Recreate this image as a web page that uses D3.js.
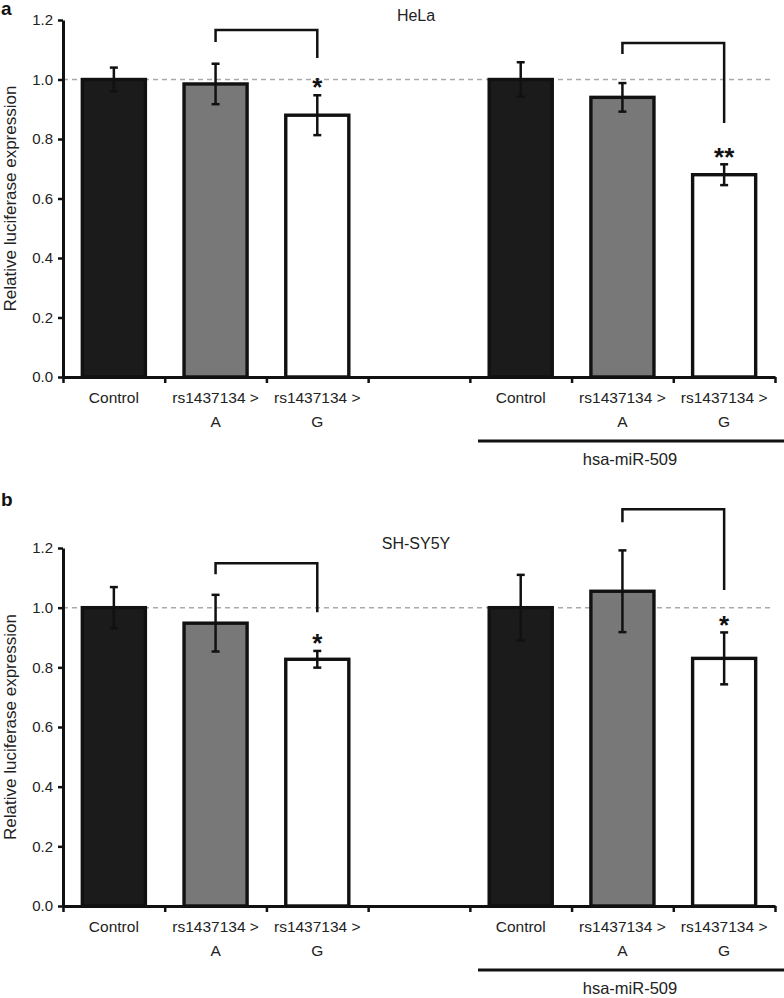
<!DOCTYPE html>
<html>
<head>
<meta charset="utf-8">
<script src="https://cdnjs.cloudflare.com/ajax/libs/d3/7.8.5/d3.min.js"></script>
<style>
  body { margin: 0; background: #fff; }
  svg { font-family: "Liberation Sans", Arial, sans-serif; }
</style>
</head>
<body>
<script>
// slots along the x axis (one empty slot between the two groups)
var slotKeys = ["c1", "a1", "g1", "gap", "c2", "a2", "g2"];
var labelLine1 = ["Control", "rs1437134 >", "rs1437134 >", "", "Control", "rs1437134 >", "rs1437134 >"];
var labelLine2 = ["", "A", "G", "", "", "A", "G"];
var slotType = ["control", "A", "G", null, "control", "A", "G"];

// HeLa (panel a)
var helaValues = [1.0, 0.985, 0.88, null, 1.0, 0.94, 0.68];
var helaErrors = [0.04, 0.068, 0.067, null, 0.058, 0.048, 0.035];
var helaBrackets = [
  { from: "a1", to: "g1", top: 1.166, leftEnd: 1.126, rightEnd: 1.072 },
  { from: "a2", to: "g2", top: 1.123, leftEnd: 1.086, rightEnd: 0.854 }
];
var helaStars = [{ slot: "g1", text: "*", at: 0.99 }, { slot: "g2", text: "**", at: 0.755 }];

// SH-SY5Y (panel b)
var shsyValues = [1.0, 0.948, 0.827, null, 1.0, 1.055, 0.83];
var shsyErrors = [0.069, 0.095, 0.028, null, 0.11, 0.137, 0.087];
var shsyBrackets = [
  { from: "a1", to: "g1", top: 1.149, leftEnd: 1.112, rightEnd: 0.985 },
  { from: "a2", to: "g2", top: 1.33, leftEnd: 1.286, rightEnd: 1.059 }
];
var shsyStars = [{ slot: "g1", text: "*", at: 0.898 }, { slot: "g2", text: "*", at: 0.958 }];

var yTicks = [0, 0.2, 0.4, 0.6, 0.8, 1.0, 1.2];
var groupLabel = "hsa-miR-509";
var yLabel = "Relative luciferase expression";

var fills = { control: "#1b1b1b", A: "#787878", G: "#ffffff" };

var w = 784, h = 998;
var left = 63, right = 775;

var svg = d3.select("body").append("svg")
  .attr("width", w)
  .attr("height", h);

var x = d3.scaleBand()
  .domain(slotKeys)
  .range([left, right])
  .paddingInner(0.38)
  .paddingOuter(0.19);

// boundaries between slots, for the x-axis ticks
var xEdge = d3.scaleLinear().domain([0, slotKeys.length]).range([left, right]);

var panels = [
  { letter: "a", title: "HeLa", values: helaValues, errors: helaErrors, brackets: helaBrackets, stars: helaStars, top: 20, bottom: 377, letterY: 15 },
  { letter: "b", title: "SH-SY5Y", values: shsyValues, errors: shsyErrors, brackets: shsyBrackets, stars: shsyStars, top: 548, bottom: 906, letterY: 506 }
];

panels.forEach(function(p) {
  var g = svg.append("g");
  var y = d3.scaleLinear().domain([0, 1.2]).range([p.bottom, p.top]);
  var cx = function(k) { return x(k) + x.bandwidth() / 2; };

  // panel letter and title
  svg.append("text")
    .attr("x", 1).attr("y", p.letterY)
    .style("font-size", "19px").style("font-weight", "bold")
    .attr("fill", "#111")
    .text(p.letter);
  g.append("text")
    .attr("x", 416).attr("y", p.top + 1)
    .attr("text-anchor", "middle")
    .style("font-size", "16px")
    .attr("fill", "#222")
    .text(p.title);

  // reference line at 1.0
  g.append("line")
    .attr("x1", left).attr("x2", 770)
    .attr("y1", y(1)).attr("y2", y(1))
    .attr("stroke", "#aaa")
    .attr("stroke-width", 1.5)
    .attr("stroke-dasharray", "5,4");

  var rows = slotKeys.map(function(k, i) {
    return { key: k, value: p.values[i], err: p.errors[i], type: slotType[i] };
  }).filter(function(d) { return d.value != null; });

  // bars
  g.selectAll("rect.bar")
    .data(rows)
    .enter()
    .append("rect")
    .attr("class", "bar")
    .attr("x", function(d) { return x(d.key); })
    .attr("width", x.bandwidth())
    .attr("y", function(d) { return y(d.value); })
    .attr("height", function(d) { return y(0) - y(d.value); })
    .attr("fill", function(d) { return fills[d.type]; })
    .attr("stroke", "#111")
    .attr("stroke-width", 3.4);

  // error bars
  var eb = g.selectAll("g.err")
    .data(rows)
    .enter()
    .append("g")
    .attr("class", "err")
    .attr("stroke", "#111")
    .attr("stroke-width", 2.5);
  eb.append("line")
    .attr("x1", function(d) { return cx(d.key); })
    .attr("x2", function(d) { return cx(d.key); })
    .attr("y1", function(d) { return y(d.value + d.err); })
    .attr("y2", function(d) { return y(d.value - d.err); });
  [1, -1].forEach(function(s) {
    eb.append("line")
      .attr("x1", function(d) { return cx(d.key) - 4; })
      .attr("x2", function(d) { return cx(d.key) + 4; })
      .attr("y1", function(d) { return y(d.value + s * d.err); })
      .attr("y2", function(d) { return y(d.value + s * d.err); });
  });

  // axes
  var yAxis = d3.axisLeft(y)
    .tickValues(yTicks)
    .tickFormat(d3.format(".1f"))
    .tickSize(5)
    .tickSizeOuter(0)
    .tickPadding(5);
  var ya = g.append("g")
    .attr("transform", "translate(" + left + ",0)")
    .call(yAxis);
  ya.select(".domain").attr("stroke", "#111").attr("stroke-width", 3);
  ya.selectAll(".tick line").attr("stroke", "#111").attr("stroke-width", 2.5);
  ya.selectAll(".tick text")
    .attr("fill", "#222")
    .style("font-size", "15px")
    .style("font-family", "Liberation Sans, Arial, sans-serif");

  var xAxis = d3.axisBottom(xEdge)
    .tickValues(d3.range(slotKeys.length + 1))
    .tickFormat("")
    .tickSize(6)
    .tickSizeOuter(0);
  var xa = g.append("g")
    .attr("transform", "translate(0," + p.bottom + ")")
    .call(xAxis);
  xa.select(".domain").attr("stroke", "#111").attr("stroke-width", 3);
  xa.selectAll(".tick line").attr("stroke", "#111").attr("stroke-width", 2.5);

  // category labels
  slotKeys.forEach(function(k, i) {
    if (labelLine1[i]) {
      g.append("text")
        .attr("x", cx(k)).attr("y", p.bottom + 26)
        .attr("text-anchor", "middle")
        .style("font-size", "15.5px")
        .attr("fill", "#222")
        .text(labelLine1[i]);
    }
    if (labelLine2[i]) {
      g.append("text")
        .attr("x", cx(k)).attr("y", p.bottom + 50)
        .attr("text-anchor", "middle")
        .style("font-size", "15.5px")
        .attr("fill", "#222")
        .text(labelLine2[i]);
    }
  });

  // group line and label
  g.append("line")
    .attr("x1", 478).attr("x2", w)
    .attr("y1", p.bottom + 64).attr("y2", p.bottom + 64)
    .attr("stroke", "#111")
    .attr("stroke-width", 3);
  g.append("text")
    .attr("x", 630).attr("y", p.bottom + 88)
    .attr("text-anchor", "middle")
    .style("font-size", "16.5px")
    .attr("fill", "#222")
    .text(groupLabel);

  // y label
  g.append("text")
    .attr("transform", "translate(16," + ((p.top + p.bottom) / 2) + ") rotate(-90)")
    .attr("text-anchor", "middle")
    .style("font-size", "17px")
    .attr("fill", "#222")
    .text(yLabel);

  // significance brackets
  g.selectAll("path.bracket")
    .data(p.brackets)
    .enter()
    .append("path")
    .attr("class", "bracket")
    .attr("d", function(d) {
      return "M" + cx(d.from) + "," + y(d.leftEnd) +
        "V" + y(d.top) + "H" + cx(d.to) + "V" + y(d.rightEnd);
    })
    .attr("fill", "none")
    .attr("stroke", "#111")
    .attr("stroke-width", 2.5);

  g.selectAll("text.star")
    .data(p.stars)
    .enter()
    .append("text")
    .attr("class", "star")
    .attr("x", function(d) { return cx(d.slot); })
    .attr("y", function(d) { return y(d.at) + 14; })
    .attr("text-anchor", "middle")
    .style("font-size", "26px")
    .style("font-weight", "bold")
    .attr("fill", "#111")
    .text(function(d) { return d.text; });
});
</script>
</body>
</html>
